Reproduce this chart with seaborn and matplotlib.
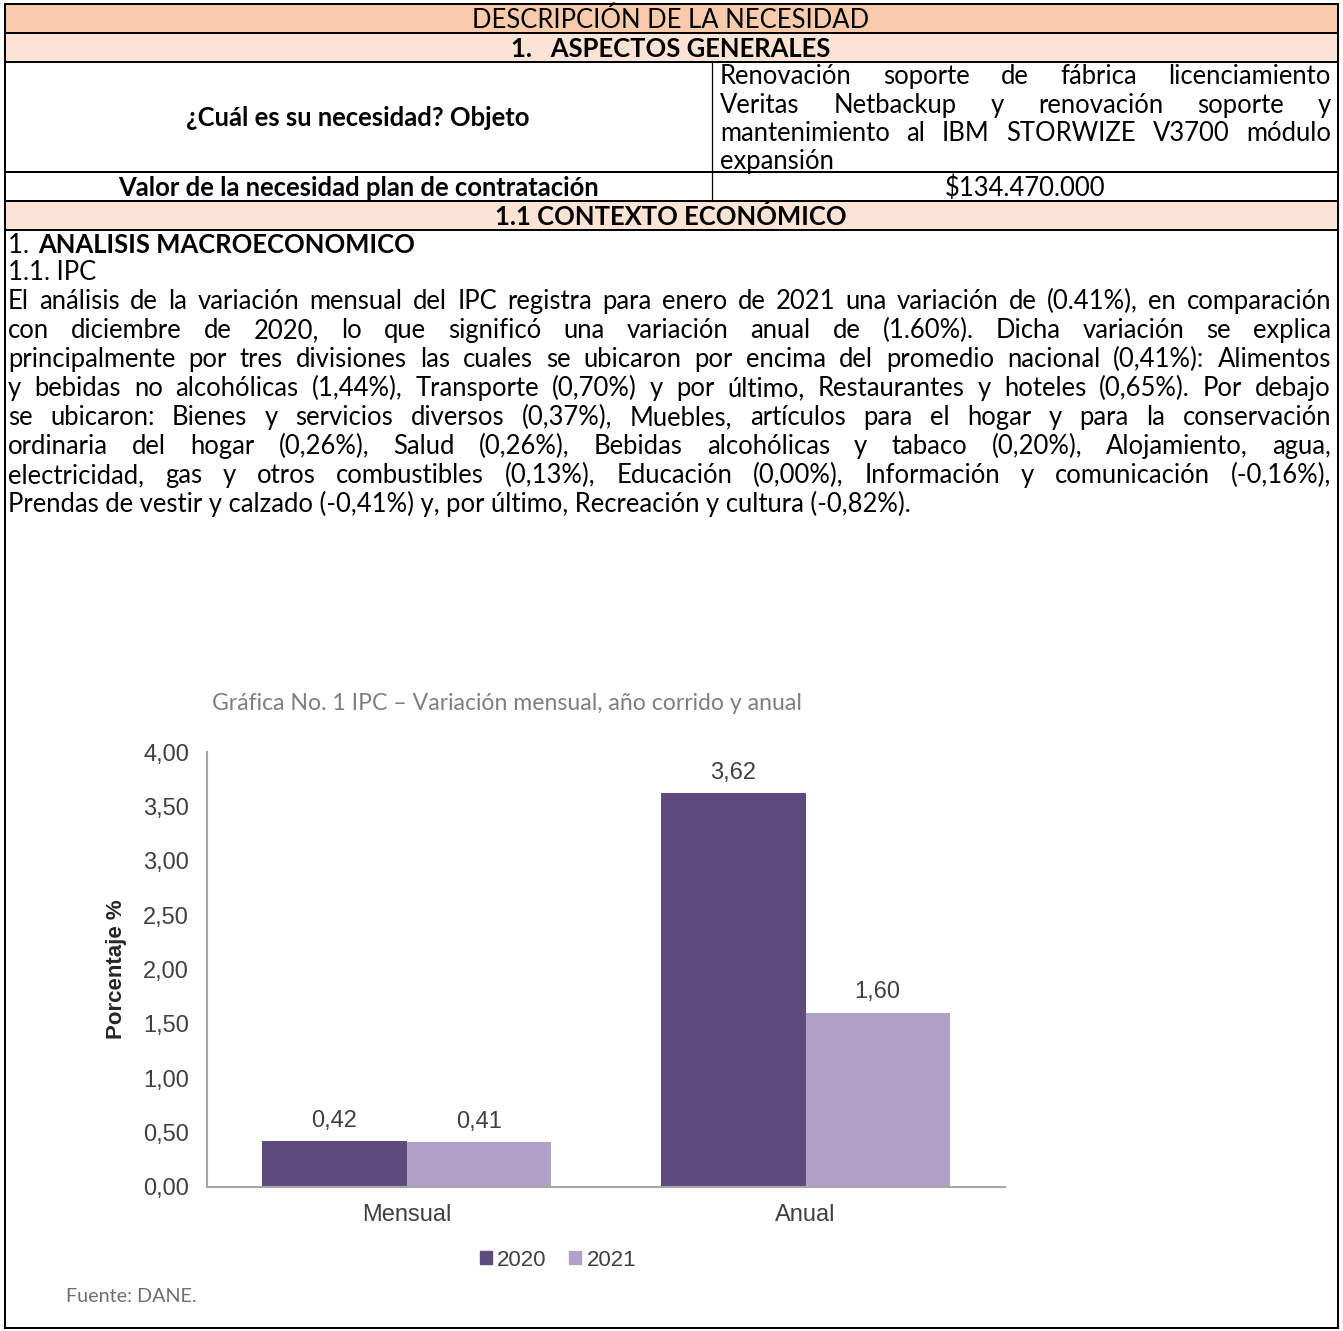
import matplotlib
matplotlib.use('Agg')
import matplotlib.pyplot as plt
import seaborn as sns
import pandas as pd
from matplotlib import font_manager
from matplotlib.patches import Rectangle
from matplotlib.ticker import FuncFormatter

W, H = 1343, 1331

# chart data
periodos = ['Mensual', 'Anual']
anios = ['2020', '2021']
valores_2020 = [0.42, 3.62]
valores_2021 = [0.41, 1.60]
y_ticks = [0.0, 0.5, 1.0, 1.5, 2.0, 2.5, 3.0, 3.5, 4.0]
titulo_grafica = 'Gráfica No. 1 IPC – Variación mensual, año corrido y anual'
fuente = 'Fuente: DANE.'

# document text
titulo = 'DESCRIPCIÓN DE LA NECESIDAD'
seccion_1 = '1.   ASPECTOS GENERALES'
pregunta = '¿Cuál es su necesidad? Objeto'
objeto_lineas = [
    'Renovación soporte de fábrica licenciamiento',
    'Veritas Netbackup y renovación soporte y',
    'mantenimiento al IBM STORWIZE V3700 módulo',
    'expansión',
]
valor_label = 'Valor de la necesidad plan de contratación'
valor = '$134.470.000'
seccion_11 = '1.1 CONTEXTO ECONÓMICO'
cuerpo_lineas = [
    'El análisis de la variación mensual del IPC registra para enero de 2021 una variación de (0.41%), en comparación',
    'con diciembre de 2020, lo que significó una variación anual de (1.60%). Dicha variación se explica',
    'principalmente por tres divisiones las cuales se ubicaron por encima del promedio nacional (0,41%): Alimentos',
    'y bebidas no alcohólicas (1,44%), Transporte (0,70%) y por último, Restaurantes y hoteles (0,65%). Por debajo',
    'se ubicaron: Bienes y servicios diversos (0,37%), Muebles, artículos para el hogar y para la conservación',
    'ordinaria del hogar (0,26%), Salud (0,26%), Bebidas alcohólicas y tabaco (0,20%), Alojamiento, agua,',
    'electricidad, gas y otros combustibles (0,13%), Educación (0,00%), Información y comunicación (-0,16%),',
    'Prendas de vestir y calzado (-0,41%) y, por último, Recreación y cultura (-0,82%).',
]

sns.set_style('white')
names = {f.name for f in font_manager.fontManager.ttflist}
DOC_FONT = next((f for f in ['Lato', 'Open Sans', 'Noto Sans'] if f in names), 'DejaVu Sans')
CHART_FONT = 'Liberation Sans' if 'Liberation Sans' in names else 'DejaVu Sans'
plt.rcParams['font.family'] = [DOC_FONT, 'DejaVu Sans']

C2020 = '#5E4A7D'
C2021 = '#B1A0C7'
GRAY_TXT = '#404040'

fig = plt.figure(figsize=(W / 100, H / 100), dpi=100)
bg = fig.add_axes([0, 0, 1, 1])
bg.set_xlim(0, W)
bg.set_ylim(H, 0)
bg.axis('off')
renderer = fig.canvas.get_renderer()


def width_of(s, size, weight='normal', family=DOC_FONT):
    t = bg.text(0, 0, s, fontsize=size, fontweight=weight, family=family)
    w = t.get_window_extent(renderer).width
    t.remove()
    return w


def put(s, x, y, size, weight='normal', ha='left', color='black', family=DOC_FONT):
    # y is the visual centre of capitals, converted to a baseline
    base = y + 0.36 * size * 100 / 72
    return bg.text(x, base, s, fontsize=size, fontweight=weight, ha=ha, va='baseline',
                   color=color, family=family)


def line(s, x0, x1, y, size, weight='normal', justify=True):
    if not justify:
        put(s, x0, y, size, weight)
        return
    words = s.split(' ')
    ws = [width_of(w, size, weight) for w in words]
    gap = (x1 - x0 - sum(ws)) / (len(words) - 1)
    x = x0
    for w, wd in zip(words, ws):
        put(w, x, y, size, weight)
        x += wd + gap


# font size: a full line of the paragraph stays a little short of the cell width
body = 12 * 1250 / width_of(cuerpo_lineas[0], 12)

# table frame
LW = 1.44
L, R = 5, 1338
bg.add_patch(Rectangle((L, 4), R - L, 29, facecolor='#F8CBAD', edgecolor='none'))
bg.add_patch(Rectangle((L, 33), R - L, 29, facecolor='#FBE4D5', edgecolor='none'))
bg.add_patch(Rectangle((L, 201), R - L, 29, facecolor='#FBE4D5', edgecolor='none'))
for yy in [4, 33, 62, 172, 201, 230, 1328]:
    bg.plot([L, R], [yy, yy], color='black', lw=LW, solid_capstyle='projecting')
bg.plot([L, L], [4, 1328], color='black', lw=LW)
bg.plot([R, R], [4, 1328], color='black', lw=LW)
bg.plot([712, 712], [62, 201], color='black', lw=0.9)

put(titulo, 671, 18.5, body, ha='center')
put(seccion_1, 671, 47.5, body, weight='bold', ha='center')
put(pregunta, 358, 117, body, weight='bold', ha='center')
for i, s in enumerate(objeto_lineas):
    line(s, 720, 1331, 75 + 28.3 * i, body, justify=i < len(objeto_lineas) - 1)
put(valor_label, 358, 186.5, body, weight='bold', ha='center')
put(valor, 1025, 186.5, body, ha='center')
put(seccion_11, 671, 215.5, body, weight='bold', ha='center')

put('1. ', 8, 244, body)
put('ANALISIS MACROECONOMICO', 8 + width_of('1. ', body) + 3, 244, body, weight='bold')
put('1.1. IPC', 8, 271, body)
for i, s in enumerate(cuerpo_lineas):
    line(s, 8, 1331, 300 + 29 * i, body, justify=i < len(cuerpo_lineas) - 1)

# chart
tsize = 12 * 586 / width_of(titulo_grafica, 12)
put(titulo_grafica, 212, 702, tsize, color='#7F7F7F')
fsize = 12 * 130 / width_of(fuente, 12)
put(fuente, 66, 1295, fsize, color='#6F6F6F')

df = pd.DataFrame({
    'periodo': periodos * 2,
    'anio': [anios[0]] * len(periodos) + [anios[1]] * len(periodos),
    'valor': valores_2020 + valores_2021,
})

ax = fig.add_axes([207 / W, (H - 1187) / H, (1005 - 207) / W, (1187 - 752) / H])
ax.set_facecolor('none')
sns.barplot(data=df, x='periodo', y='valor', hue='anio', hue_order=anios,
            palette=[C2020, C2021], width=0.724, gap=0, errorbar=None,
            saturation=1, legend=False, linewidth=0, ax=ax)
ax.set_xlim(-0.5, 1.5)
ax.set_ylim(0, 4)
ax.set_yticks(y_ticks)
ax.yaxis.set_major_formatter(FuncFormatter(lambda v, p: f'{v:.2f}'.replace('.', ',')))
for sp in ['top', 'right']:
    ax.spines[sp].set_visible(False)
for sp in ['left', 'bottom']:
    ax.spines[sp].set_color('#A6A6A6')
    ax.spines[sp].set_linewidth(1.5)
ax.tick_params(axis='y', length=0, pad=13, labelsize=17, labelcolor=GRAY_TXT)
ax.tick_params(axis='x', length=0, pad=12, labelsize=17, labelcolor=GRAY_TXT)
for lab in ax.get_xticklabels() + ax.get_yticklabels():
    lab.set_family(CHART_FONT)
ax.set_xlabel('')
ax.set_ylabel('Porcentaje %', fontsize=16, fontweight='bold', family=CHART_FONT,
              color='#262626', va='center')
ax.yaxis.set_label_coords(-0.113, 0.5)

for cont in ax.containers:
    ax.bar_label(cont, labels=[f'{v:.2f}'.replace('.', ',') for v in cont.datavalues],
                 padding=7, fontsize=17, color=GRAY_TXT, family=CHART_FONT)

handles = [Rectangle((0, 0), 1, 1, color=c) for c in [C2020, C2021]]
fig.legend(handles, anios, loc='center', bbox_to_anchor=(558 / W, 1 - 1260 / H), ncol=2,
           frameon=False, handlelength=0.55, handleheight=0.55, handletextpad=0.25,
           columnspacing=1.0, prop={'family': CHART_FONT, 'size': 16}, labelcolor=GRAY_TXT)

fig.savefig('out.png', dpi=100)
